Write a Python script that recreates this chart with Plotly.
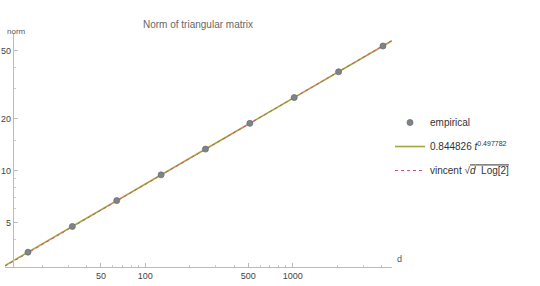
import numpy as np
import plotly.graph_objects as go

# Data
d_vals = [16, 32, 64, 128, 256, 512, 1024, 2048, 4096]
norm_vals = [3.36, 4.74, 6.70, 9.46, 13.35, 18.85, 26.62, 37.59, 53.08]
fit_a = 0.844826
fit_b = 0.497782
x_tickvals = [50, 100, 500, 1000]
x_minor = [20, 30, 40, 60, 70, 80, 90, 200, 300, 400, 600, 700, 800, 900, 2000, 3000, 4000]
y_tickvals = [5, 10, 20, 50]
y_minor = [3, 4, 6, 7, 8, 9, 15, 30, 40]

W, H = 540, 286
x_lo, x_hi = 1.0482, 3.6737
y_lo, y_hi = 0.4419, 1.8006

dl = np.logspace(x_lo, x_hi, 200)
fit = fit_a * dl ** fit_b
vin = np.sqrt(dl * np.log(2))

fig = go.Figure()
fig.add_trace(go.Scatter(
    x=dl, y=fit, mode="lines", name="0.844826 <i>t</i><sup>0.497782</sup>",
    line=dict(color="#a3a63e", width=1.6), legendgroup="b", legendrank=2))
fig.add_trace(go.Scatter(
    x=dl, y=vin, mode="lines",
    name="vincent √<span style=\"text-decoration:overline\"><i>d</i>  Log[2]</span>",
    line=dict(color="#d4507c", width=1, dash="dot"), legendgroup="c", legendrank=3))
fig.add_trace(go.Scatter(
    x=d_vals, y=norm_vals, mode="markers", name="empirical",
    marker=dict(size=6, color="#7f848a", line=dict(color="#6a6e74", width=0.8)),
    legendgroup="a", legendrank=1))

axis_font = dict(family="Liberation Sans, Arial", size=9, color="#444")
fig.update_layout(
    width=W, height=H,
    margin=dict(l=0, r=0, t=0, b=0),
    paper_bgcolor="white", plot_bgcolor="white",
    showlegend=True,
    legend=dict(x=390 / W, y=1 - 108 / H, xanchor="left", yanchor="top",
                traceorder="grouped", tracegroupgap=5,
                font=dict(family="Liberation Sans, Arial", size=10, color="#333"),
                bgcolor="rgba(0,0,0,0)"),
    xaxis=dict(type="log", range=[x_lo, x_hi], domain=[5 / W, 392 / W],
               anchor="y", showgrid=False, zeroline=False,
               showline=True, linecolor="#bbb", linewidth=1,
               tickmode="array", tickvals=x_tickvals,
               ticktext=[str(v) for v in x_tickvals],
               ticks="inside", ticklen=4, tickcolor="#bbb",
               tickfont=axis_font,
               minor=dict(tickvals=x_minor, ticks="inside", ticklen=2, tickcolor="#ccc"),
               automargin=False),
    yaxis=dict(type="log", range=[y_lo, y_hi],
               domain=[1 - 266.7 / H, 1 - 33 / H],
               anchor="free", position=12.7 / W,
               showgrid=False, zeroline=False,
               showline=True, linecolor="#bbb", linewidth=1,
               tickmode="array", tickvals=y_tickvals,
               ticktext=[str(v) for v in y_tickvals],
               ticks="inside", ticklen=4, tickcolor="#bbb",
               tickfont=axis_font,
               minor=dict(tickvals=y_minor, ticks="inside", ticklen=2, tickcolor="#ccc"),
               automargin=False),
    annotations=[
        dict(text="Norm of triangular matrix", x=198 / W, y=1 - 17 / H,
             xref="paper", yref="paper", showarrow=False,
             font=dict(family="Liberation Sans, Arial", size=10, color="#666")),
        dict(text="norm", x=5 / W, y=1 - 25 / H, xref="paper", yref="paper",
             xanchor="left", showarrow=False,
             font=dict(family="Liberation Sans, Arial", size=8, color="#555")),
        dict(text="d", x=395 / W, y=1 - 266 / H, xref="paper", yref="paper",
             xanchor="left", showarrow=False,
             font=dict(family="Liberation Sans, Arial", size=9, color="#555")),
    ],
)

fig.write_html("out.html")
